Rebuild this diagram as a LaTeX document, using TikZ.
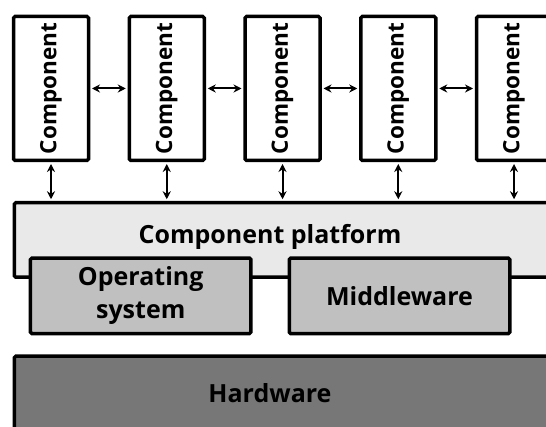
\documentclass[tikz,border=0pt]{standalone}
\usepackage{fontspec}
\usepackage{graphicx}
\usepackage{xcolor}
\usetikzlibrary{arrows.meta}
\newfontfamily\diafont{Open Sans}
\definecolor{platgray}{HTML}{E9E9E9}
\definecolor{midgray}{HTML}{C0C0C0}
\definecolor{hwgray}{HTML}{777777}

\begin{document}
\begin{tikzpicture}[
  x=1pt, y=-1pt,
  box/.style={draw,line width=3.5pt,rounded corners=1.5pt,inner sep=0pt,align=center,
    font=\diafont\bfseries\fontsize{25}{33}\selectfont},
  comp/.style={box,fill=white,minimum width=75pt,minimum height=144pt,
    font=\diafont\bfseries\fontsize{22.5}{27}\selectfont},
  platbox/.style={box,fill=platgray,anchor=north west},
  layer/.style={box,fill=midgray,minimum width=220.5pt,minimum height=75.5pt},
  hwbox/.style={box,fill=hwgray,anchor=north west},
  lbl/.style={inner sep=0pt,font=\diafont\bfseries\fontsize{25}{33}\selectfont},
  link/.style={line width=2pt,{Stealth[length=8pt,width=8pt]}-{Stealth[length=8pt,width=8pt]},
    shorten <=1.75pt,shorten >=1.75pt}
]
  \clip (0,0) rectangle (546,427);
  % layers
  \node[platbox,minimum width=600pt,minimum height=74.5pt] (plat) at (12.5,201) {};
  \node[lbl] (platlabel) at (270,237) {Component platform};
  \node[layer] (os) at (140.7,295.8) {Operating\\system};
  \node[layer] (mw) at (399.5,295.8) {Middleware};
  \node[hwbox,minimum width=600pt,minimum height=120pt] (hw) at (12.5,354.5) {};
  \node[lbl] (hwlabel) at (270,393) {Hardware};
  % components
  \foreach \i in {1,...,5}
    \node[comp] (c\i) at ({51+115.75*(\i-1)},88.5) {\rotatebox{90}{Component}};
  \foreach \i in {1,...,5}
    \draw[link] (c\i.south) -- (c\i.south |- plat.north);
  \foreach \i/\j in {1/2,2/3,3/4,4/5}
    \draw[link] (c\i.east) -- (c\j.west);
\end{tikzpicture}
\end{document}
